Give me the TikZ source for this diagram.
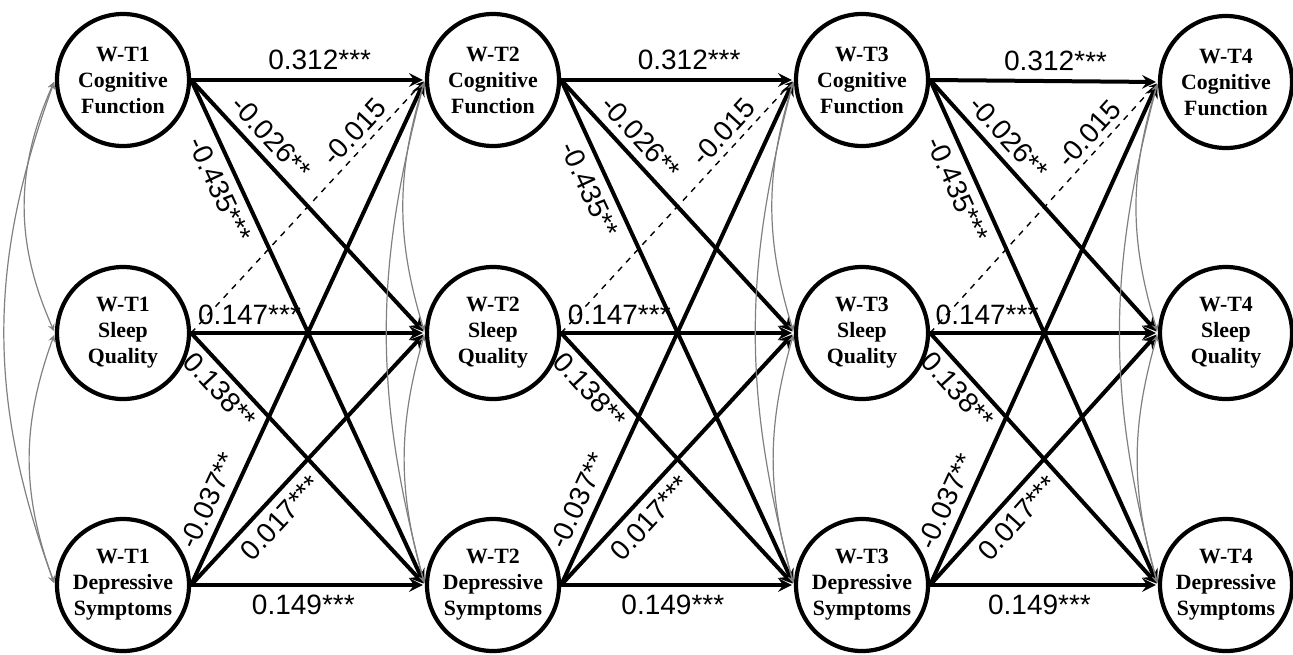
\documentclass[tikz,border=0pt]{standalone}
\usepackage{fontspec}
\setmainfont{Liberation Serif}
\setsansfont{Liberation Sans}
\usetikzlibrary{arrows}

\begin{document}
\begin{tikzpicture}[> = stealth, % arrow head style
	shorten > = 1pt, % don't touch arrow head to node
	x=0.5pt, y=-0.5pt, % pixel grid, y runs down
	sig/.style={->, line width=2pt},
	weak/.style={->, dashed, line width=0.7pt},
	cov/.style={<->, gray, line width=0.6pt, shorten < = 1pt},
	coef/.style={font=\sffamily\fontsize{14}{16}\selectfont, sloped, inner sep=1pt},
	var/.style={circle, draw, line width=2.1pt, minimum size=66pt, inner sep=0pt,
		align=center, font=\bfseries\fontsize{10.9}{13}\selectfont}]
	\useasboundingbox (0,0) rectangle (1293,654);

	\node[var] (c1) at (123,80)  {W-T1\\Cognitive\\Function};
	\node[var] (s1) at (123,333) {W-T1\\Sleep\\Quality};
	\node[var] (d1) at (123,585) {W-T1\\Depressive\\Symptoms};
	\node[var] (c2) at (493,80)  {W-T2\\Cognitive\\Function};
	\node[var] (s2) at (493,333) {W-T2\\Sleep\\Quality};
	\node[var] (d2) at (493,585) {W-T2\\Depressive\\Symptoms};
	\node[var] (c3) at (862,80)  {W-T3\\Cognitive\\Function};
	\node[var] (s3) at (862,333) {W-T3\\Sleep\\Quality};
	\node[var] (d3) at (862,585) {W-T3\\Depressive\\Symptoms};
	\node[var] (c4) at (1226,82) {W-T4\\Cognitive\\Function};
	\node[var] (s4) at (1226,333) {W-T4\\Sleep\\Quality};
	\node[var] (d4) at (1226,585) {W-T4\\Depressive\\Symptoms};

	% cross-lagged paths between waves
	\foreach \a/\b/\st in {1/2/***, 2/3/**, 3/4/***} {
		\draw[sig] (c\a.east) -- node[coef, above=3pt, pos=.55] {0.312***} (c\b.west);
		\draw[sig] (c\a.east) -- node[coef, above=3pt, pos=.28] {-0.026**} (s\b.west);
		\draw[sig] (c\a.east) -- node[coef, below=3pt, pos=.2] {-0.435\st} (d\b.west);
		\draw[weak] (s\a.east) -- node[coef, above=2pt, pos=.75] {-0.015} (c\b.west);
		\draw[sig] (s\a.east) -- node[coef, above=2pt, pos=.25] {0.147***} (s\b.west);
		\draw[sig] (s\a.east) -- node[coef, below=2pt, pos=.18] {0.138**} (d\b.west);
		\draw[sig] (d\a.east) -- node[coef, above=3pt, pos=.15] {-0.037**} (c\b.west);
		\draw[sig] (d\a.east) -- node[coef, below=3pt, pos=.32] {0.017***} (s\b.west);
		\draw[sig] (d\a.east) -- node[coef, below=3pt, pos=.48] {0.149***} (d\b.west);
	}

	% correlations within a wave
	\draw[cov] (c1.west) to[bend right=24] (s1.west);
	\draw[cov] (s1.west) to[bend right=20] (d1.west);
	\draw[cov] (c1.west) to[bend right=20] (d1.west);
	\foreach \k in {2,3,4} {
		\draw[cov] (c\k.west) to[bend right=17] (s\k.west);
		\draw[cov] (s\k.west) to[bend right=16] (d\k.west);
		\draw[cov] (c\k.west) to[bend right=15] (d\k.west);
	}
\end{tikzpicture}
\end{document}
